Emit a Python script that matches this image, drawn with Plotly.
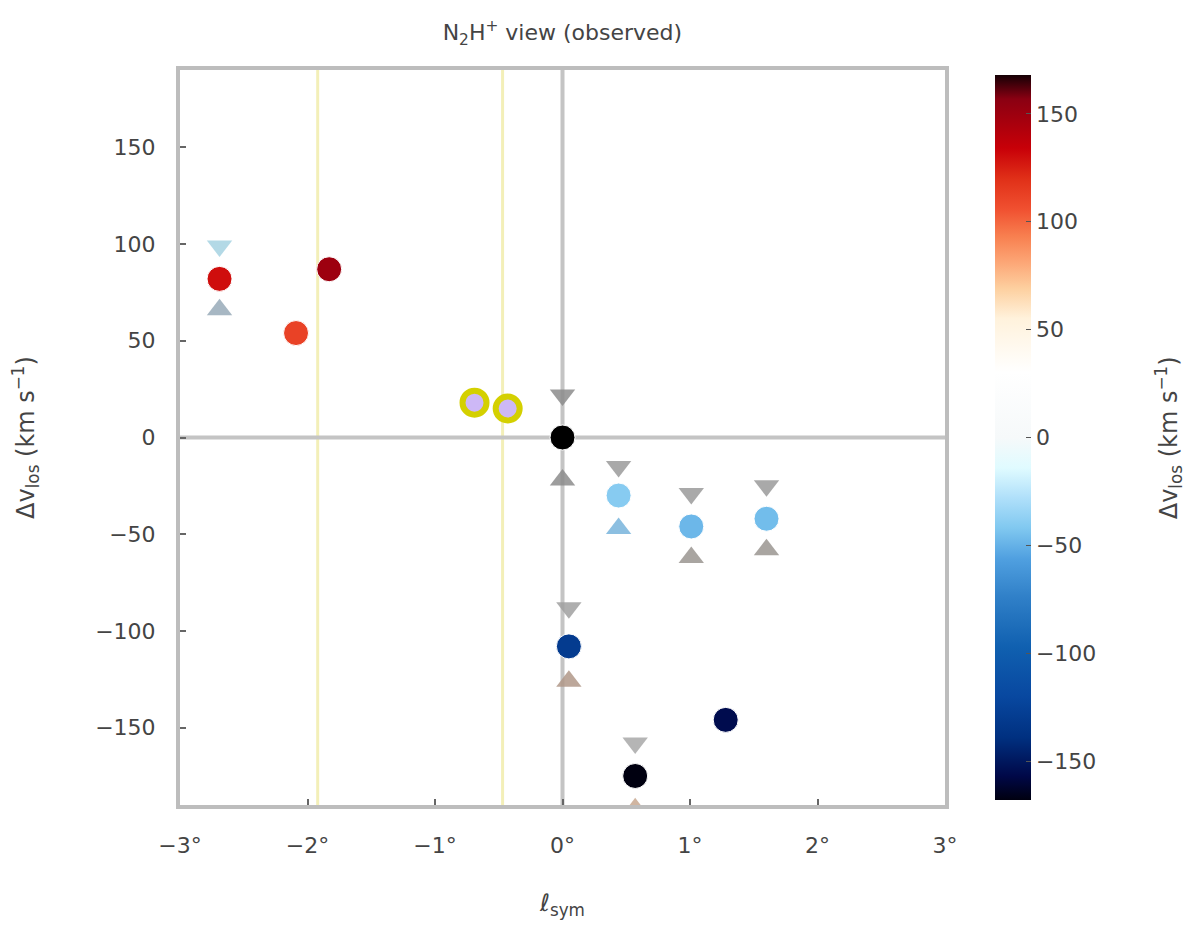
import plotly.graph_objects as go

# colored points: position and the value shown by their colour
pt_x = [-2.69, -2.09, -1.83, 0.44, 1.01, 1.60, 0.05, 0.57, 1.28]
pt_y = [82, 54, 87, -30, -46, -42, -108, -175, -146]
pt_c = [130, 112, 150, -40, -48, -46, -130, -168, -155]

# ranges shown as triangles above / below
rng_x = [-2.69, 0.0, 0.44, 1.01, 1.60, 0.05, 0.57]
rng_hi = [99, 22, -15, -29, -25, -88, -158]
rng_lo = [66, -22, -47, -62, -58, -126, -192]
rng_hi_col = ["#a6d2e2", "#8c8c8c", "#9a9a9a", "#9a9a9a", "#9a9a9a", "#a0a0a0", "#a8a8a8"]
rng_lo_col = ["#98aab8", "#8c8c8c", "#78b4dc", "#9a9590", "#9a9590", "#b09888", "#c8a890"]

# highlighted points
hl_x = [-0.69, -0.43]
hl_y = [18, 15]

# reference point
ref_x = [0.0]
ref_y = [0.0]

# vertical markers
yel_x = [-1.92, -0.47]

x_ticks = [-3, -2, -1, 0, 1, 2, 3]
x_text = ["−3°", "−2°", "−1°", "0°", "1°", "2°", "3°"]
y_ticks = [-150, -100, -50, 0, 50, 100, 150]
y_text = ["−150", "−100", "−50", "0", "50", "100", "150"]

cscale = [
    [0.0, "#000010"], [0.033, "#000848"], [0.086, "#003080"], [0.143, "#0848a0"],
    [0.211, "#1060b0"], [0.28, "#3080c8"], [0.333, "#50a0e0"], [0.375, "#80c8f0"],
    [0.417, "#b0e0fa"], [0.458, "#e0fbff"], [0.5, "#f6f9fa"], [0.59, "#ffffff"],
    [0.664, "#fff2dc"], [0.705, "#fdd0a0"], [0.747, "#fca070"], [0.777, "#f88050"],
    [0.815, "#f05030"], [0.857, "#e03018"], [0.899, "#c80008"], [0.967, "#8a0012"],
    [1.0, "#150005"],
]

label = "Δv<sub>los</sub> (km s<sup>−1</sup>)"
txt = "#444"

fig = go.Figure()

for xv in yel_x:
    fig.add_vline(x=xv, line=dict(color="#f3efb8", width=3), layer="below")
fig.add_vline(x=0, line=dict(color="#c4c4c4", width=4), layer="below")
fig.add_hline(y=0, line=dict(color="#c4c4c4", width=4), layer="below")

fig.add_trace(go.Scatter(
    x=rng_x, y=rng_hi, mode="markers",
    marker=dict(symbol="triangle-down", size=22, color=rng_hi_col, opacity=0.85),
    showlegend=False, hoverinfo="skip"))
fig.add_trace(go.Scatter(
    x=rng_x, y=rng_lo, mode="markers",
    marker=dict(symbol="triangle-up", size=22, color=rng_lo_col, opacity=0.85),
    showlegend=False, hoverinfo="skip"))

fig.add_trace(go.Scatter(
    x=pt_x, y=pt_y, mode="markers",
    marker=dict(size=25, color=pt_c, colorscale=cscale, cmin=-168, cmax=168,
                line=dict(color="white", width=1),
                colorbar=dict(
                    x=1.065, xanchor="left", xpad=0, y=0.5, len=0.986, ypad=0,
                    thickness=36, outlinewidth=0, ticks="inside", ticklen=5,
                    tickcolor="#555", tickvals=y_ticks, ticktext=y_text,
                    tickfont=dict(size=22, color=txt),
                )),
    showlegend=False))

fig.add_trace(go.Scatter(
    x=hl_x, y=hl_y, mode="markers",
    marker=dict(size=24, color="#cdb8f6", line=dict(color="#d4d000", width=6)),
    showlegend=False))

fig.add_trace(go.Scatter(
    x=ref_x, y=ref_y, mode="markers",
    marker=dict(size=25, color="black", line=dict(color="white", width=1)),
    showlegend=False))

axis_style = dict(showline=True, linecolor="#bdbdbd", linewidth=4, mirror=True,
                  showgrid=False, zeroline=False, ticks="inside", ticklen=6,
                  tickcolor="#666", tickwidth=2, tickfont=dict(size=22, color=txt),
                  automargin=False)

fig.update_xaxes(range=[-3, 3], tickvals=x_ticks, ticktext=x_text,
                 ticklabelstandoff=18,
                 title=dict(text="ℓ<sub>sym</sub>", standoff=38,
                            font=dict(size=24, color=txt)),
                 **axis_style)
fig.update_yaxes(range=[-190, 190], tickvals=y_ticks, ticktext=y_text,
                 ticklabelstandoff=16,
                 title=dict(text=label, standoff=56, font=dict(size=24, color=txt)),
                 **axis_style)

# right-hand colour label
fig.add_annotation(text=label, xref="paper", yref="paper", x=1.318, y=0.5,
                   textangle=-90, showarrow=False, font=dict(size=24, color=txt))

# page body adds an 8 px offset, so margins are shifted accordingly
fig.update_layout(
    width=1200, height=936,
    margin=dict(l=172, r=263, t=62, b=139),
    plot_bgcolor="white", paper_bgcolor="white",
    font=dict(family="DejaVu Sans", color=txt),
    title=dict(text="N<sub>2</sub>H<sup>+</sup> view (observed)", x=0.462, xanchor="center",
               y=0.982, yanchor="top", font=dict(size=22, color=txt)),
)

fig.write_html("out.html")
